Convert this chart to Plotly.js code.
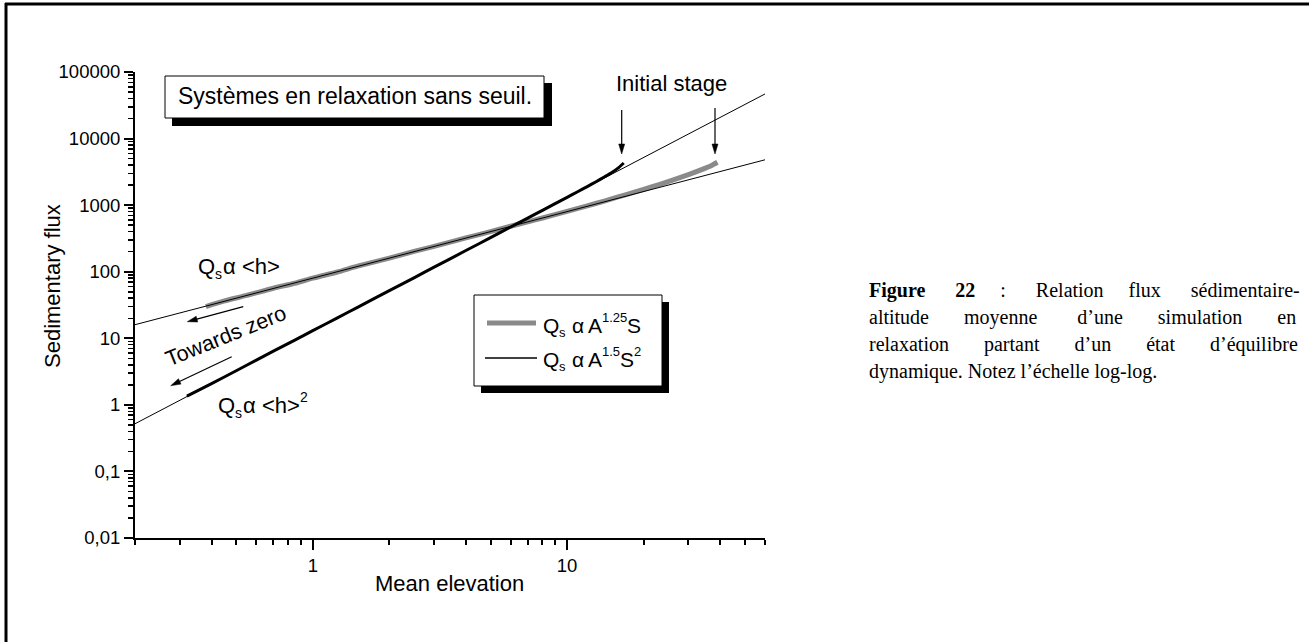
<!DOCTYPE html>
<html>
<head>
<meta charset="utf-8">
<script src="https://cdn.plot.ly/plotly-3.0.1.min.js"></script>
<style>
html, body { margin: 0; padding: 0; background: #ffffff; }
#chart { width: 1309px; height: 642px; }
</style>
</head>
<body>
<div id="chart"></div>
<script>
// ---------------- DATA ----------------
// Simulated relaxation, Qs ~ A^1.25 S (grey, thick)
const greyX = [0.38, 0.45, 0.55, 0.7, 0.85, 1, 1.25, 1.5, 2, 2.5, 3, 4, 5, 6, 7, 8, 10, 12, 14, 16, 18, 20, 23, 26, 30, 34, 37, 39];
const greyY = [30, 36.5, 44, 56.5, 67, 80, 99, 121, 160, 202, 240, 322, 400, 482, 562, 642, 805, 975, 1150, 1340, 1530, 1730, 2040, 2380, 2880, 3450, 3950, 4400];
// Simulated relaxation, Qs ~ A^1.5 S^2 (black)
const blackX = [0.32, 0.4, 0.5, 0.6, 0.7, 0.85, 1, 1.25, 1.5, 2, 2.5, 3, 4, 5, 6, 7, 8, 10, 11, 12, 13, 14, 15, 16, 16.7];
const blackY = [1.35, 2.08, 3.25, 4.7, 6.4, 9.4, 13, 20.3, 29.2, 52, 81, 117, 208, 325, 470, 640, 835, 1310, 1590, 1900, 2250, 2650, 3100, 3700, 4300];
// Reference power laws: Qs ~ <h> and Qs ~ <h>^2 (thin lines, end points)
const fitLinearX = [0.2, 60];
const fitLinearY = [16, 4800];
const fitSquareX = [0.2, 60];
const fitSquareY = [0.52, 46800];

const seriesNames = ['Qs \u03b1 A^1.25 S', 'Qs \u03b1 A^1.5 S^2'];

const xTickVals = [1, 10];
const xTickText = ['1', '10'];
const xMinorVals = [0.2, 0.3, 0.4, 0.5, 0.6, 0.7, 0.8, 0.9, 2, 3, 4, 5, 6, 7, 8, 9, 20, 30, 40, 50, 60];
const yTickVals = [0.01, 0.1, 1, 10, 100, 1000, 10000, 100000];
const yTickText = ['0,01', '0,1', '1', '10', '100', '1000', '10000', '100000'];
const yMinorDigits = [2, 3, 4, 5, 6, 7, 8, 9];

const xTitle = 'Mean elevation';
const yTitle = 'Sedimentary flux';
const boxTitle = 'Syst\u00e8mes en relaxation sans seuil.';
const captionLines = [
  '<b>Figure</b> <b>22</b> : Relation flux s\u00e9dimentaire-',
  'altitude moyenne d\u2019une simulation en',
  'relaxation partant d\u2019un \u00e9tat d\u2019\u00e9quilibre',
  'dynamique. Notez l\u2019\u00e9chelle log-log.'
];

// ---------------- LAYOUT HELPERS ----------------
const W = 1309, H = 642;
const PL = 135, PR = 765, PT = 72, PB = 538;
const X = p => (p - PL) / (PR - PL);
const Y = p => (PB - p) / (PB - PT);
const SANS = 'Liberation Sans, Arial, Helvetica, sans-serif';
const SERIF = 'Liberation Serif, Times New Roman, serif';

const yMinorVals = [];
yTickVals.slice(0, -1).forEach(d => yMinorDigits.forEach(k => yMinorVals.push(+(d * k).toPrecision(3))));

const ctx = document.createElement('canvas').getContext('2d');
function measure(word, bold, size, family) {
  ctx.font = (bold ? 'bold ' : '') + size + 'px ' + (family || SERIF);
  return ctx.measureText(word).width;
}
// justify caption lines with non-breaking spaces
function justify(line, width, size) {
  const parts = line.split(' ');
  let total = 0;
  parts.forEach(w => {
    const bold = w.indexOf('<b>') === 0;
    total += measure(w.replace(/<\/?b>/g, ''), bold, size);
  });
  const sp = measure('\u00a0', false, size);
  const gaps = parts.length - 1;
  const nTotal = Math.max(gaps, Math.round((width - total) / sp));
  let out = parts[0], used = 0;
  for (let i = 1; i <= gaps; i++) {
    const target = Math.round(nTotal * i / gaps);
    out += '\u00a0'.repeat(target - used) + parts[i];
    used = target;
  }
  return out;
}

// ---------------- TRACES ----------------
const traces = [
  { x: greyX, y: greyY, type: 'scatter', mode: 'lines', name: seriesNames[0],
    line: { color: '#8a8a8a', width: 5, shape: 'spline', smoothing: 0.6 }, showlegend: false, hoverinfo: 'skip' },
  { x: blackX, y: blackY, type: 'scatter', mode: 'lines', name: seriesNames[1],
    line: { color: '#000000', width: 3, shape: 'spline', smoothing: 0.6 }, showlegend: false, hoverinfo: 'skip' },
  { x: fitLinearX, y: fitLinearY, type: 'scatter', mode: 'lines', name: 'Qs ~ <h>',
    line: { color: '#000000', width: 1 }, showlegend: false, hoverinfo: 'skip' },
  { x: fitSquareX, y: fitSquareY, type: 'scatter', mode: 'lines', name: 'Qs ~ <h>^2',
    line: { color: '#000000', width: 1 }, showlegend: false, hoverinfo: 'skip' }
];

// ---------------- SHAPES ----------------
function rect(x0, y0, x1, y1, fill, lw) {
  return { type: 'rect', xref: 'paper', yref: 'paper', x0: X(x0), x1: X(x1), y0: Y(y1), y1: Y(y0),
           fillcolor: fill, line: { color: '#000', width: lw }, layer: 'above' };
}
function seg(x0, y0, x1, y1, color, lw) {
  return { type: 'line', xref: 'paper', yref: 'paper', x0: X(x0), x1: X(x1), y0: Y(y0), y1: Y(y1),
           line: { color: color, width: lw }, layer: 'above' };
}
function arrowShapes(tipX, tipY, tailX, tailY) {
  const dx = tipX - tailX, dy = tipY - tailY, len = Math.hypot(dx, dy);
  const ux = dx / len, uy = dy / len, hl = 10, hw = 3;
  const bx = tipX - ux * hl, by = tipY - uy * hl;
  const p1x = bx - uy * hw, p1y = by + ux * hw, p2x = bx + uy * hw, p2y = by - ux * hw;
  const path = 'M' + X(tipX) + ',' + Y(tipY) + 'L' + X(p1x) + ',' + Y(p1y) + 'L' + X(p2x) + ',' + Y(p2y) + 'Z';
  return [
    seg(tailX, tailY, bx + ux * 2, by + uy * 2, '#000', 1.2),
    { type: 'path', xref: 'paper', yref: 'paper', path: path, fillcolor: '#000', line: { color: '#000', width: 0.5 }, layer: 'above' }
  ];
}
const shapes = [
  seg(6, 3, 6, 642, '#000', 3),
  seg(5, 4, 1309, 4, '#000', 3),
  rect(172, 83, 552, 126, '#000', 0),
  rect(165, 76, 544, 118, '#fff', 1),
  rect(481, 302, 669, 393, '#000', 0),
  rect(474, 295, 662, 386, '#fff', 1),
  seg(487, 323, 536, 323, '#8a8a8a', 5),
  seg(485, 358, 537, 358, '#000', 1.5)
].concat(
  arrowShapes(187.3, 321.7, 243.3, 306.7),
  arrowShapes(170.7, 385.7, 231.7, 356.7),
  arrowShapes(621.7, 154, 621.7, 110),
  arrowShapes(715, 154, 715, 108)
);

// ---------------- ANNOTATIONS ----------------
function txt(text, x, y, size, opts) {
  return Object.assign({ xref: 'paper', yref: 'paper', x: X(x), y: Y(y), text: text, showarrow: false,
    xanchor: 'center', yanchor: 'middle', font: { family: SANS, size: size, color: '#000' } }, opts || {});
}
function esc(s) { return s.replace(/</g, '&lt;').replace(/>/g, '&gt;'); }
// label with subscripts / superscripts drawn as separate pieces
function rich(pieces, x0, yc, size) {
  const out = [];
  let x = x0;
  pieces.forEach(p => {
    const small = p.k === 'sub' || p.k === 'sup';
    const s = small ? Math.round(size * 0.64) : size;
    x += (p.gap || 0) * size;
    const y = yc + (p.k === 'sub' ? size * 0.36 : p.k === 'sup' ? -size * 0.36 : 0);
    out.push(txt(esc(p.t), x, y, s, { xanchor: 'left' }));
    x += measure(p.t, false, s, SANS);
  });
  return out;
}
let annotations = [
  txt(xTitle, 449.5, 583, 22),
  txt(yTitle, 52, 286, 22, { textangle: -90 }),
  txt(boxTitle, 354.5, 96, 23),
  txt('Towards zero', 226, 336, 21.5, { textangle: -22 }),
  txt('Initial stage', 671, 84, 22)
];
annotations = annotations.concat(
  rich([{ t: 'Q' }, { t: 's', k: 'sub' }, { t: '\u03b1', gap: 0.05 }, { t: '<h>', gap: 0.28 }], 196, 266, 22),
  rich([{ t: 'Q' }, { t: 's', k: 'sub' }, { t: '\u03b1', gap: 0.05 }, { t: '<h>', gap: 0.28 }, { t: '2', k: 'sup' }], 216, 405, 22),
  rich([{ t: 'Q' }, { t: 's', k: 'sub' }, { t: '\u03b1', gap: 0.28 }, { t: 'A', gap: 0.2 }, { t: '1.25', k: 'sup' }, { t: 'S' }], 541, 325, 21),
  rich([{ t: 'Q' }, { t: 's', k: 'sub' }, { t: '\u03b1', gap: 0.28 }, { t: 'A', gap: 0.2 }, { t: '1.5', k: 'sup' }, { t: 'S' }, { t: '2', k: 'sup' }], 541, 359, 21)
);
const capSize = 20, capWidth = 429, capLeft = 867;
const capY = [290, 317, 344, 371];
captionLines.forEach((line, i) => {
  const t = i < captionLines.length - 1 ? justify(line, capWidth, capSize) : line;
  annotations.push(txt(t, capLeft, capY[i], capSize, { xanchor: 'left', font: { family: SERIF, size: capSize, color: '#000' } }));
});

// ---------------- LAYOUT ----------------
const axisCommon = {
  type: 'log', showgrid: false, zeroline: false, showline: true, linecolor: '#000', linewidth: 2,
  ticks: 'outside', tickcolor: '#000', tickwidth: 2, tickmode: 'array',
  tickfont: { family: SANS, size: 18.5, color: '#000' }, fixedrange: true
};
const layout = {
  width: W, height: H, autosize: false,
  margin: { l: PL, r: W - PR, t: PT, b: H - PB, pad: 0 },
  paper_bgcolor: '#fff', plot_bgcolor: '#fff',
  showlegend: false,
  xaxis: Object.assign({}, axisCommon, {
    range: [Math.log10(0.2), Math.log10(60)], tickvals: xTickVals, ticktext: xTickText, ticklen: 10,
    minor: { tickmode: 'array', tickvals: xMinorVals, ticks: 'outside', ticklen: 5, tickwidth: 2, tickcolor: '#000', showgrid: false }
  }),
  yaxis: Object.assign({}, axisCommon, {
    range: [-2, 5], tickvals: yTickVals, ticktext: yTickText, ticklen: 9,
    minor: { tickmode: 'array', tickvals: yMinorVals, ticks: 'outside', ticklen: 5, tickwidth: 1.5, tickcolor: '#000', showgrid: false }
  }),
  shapes: shapes,
  annotations: annotations
};

Plotly.newPlot('chart', traces, layout, { displayModeBar: false, staticPlot: true });
</script>
</body>
</html>
